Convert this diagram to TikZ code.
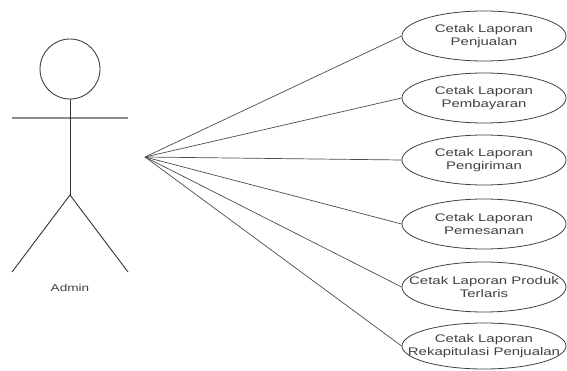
\documentclass[tikz,border=0pt]{standalone}
\usepackage{fontspec}
\setmainfont{Liberation Sans}[FakeStretch=1.36]
\usetikzlibrary{shapes.geometric}
\begin{document}
\begin{tikzpicture}[x=1pt,y=-1pt,
  uc/.style={draw=black!75, line width=0.8pt, ellipse, minimum width=164pt, minimum height=50pt, inner sep=0pt},
  uctext/.style={align=center, font=\fontsize{11}{13.5}\selectfont, text=black!75, inner sep=0pt},
  lnk/.style={draw=black!70, line width=0.7pt},
  body/.style={draw=black!80, line width=0.9pt}]
\useasboundingbox (0,0) rectangle (567,371);
% actor
\node[draw=black!75, line width=0.9pt, circle, minimum size=60pt, inner sep=0pt] (head) at (70,69) {};
\coordinate (hip) at (70,195);
\coordinate (armL) at (12,118);
\coordinate (armR) at (128,118);
\coordinate (legL) at (12,272);
\coordinate (legR) at (128,272);
\draw[draw=black!45, line width=1.2pt] (armL) -- (armR);
\draw[body] (head.south) -- (hip);
\draw[body] (legL) -- (hip) -- (legR);
\node[font=\fontsize{10}{12}\selectfont, text=black!75] (admin) at (70,288) {Admin};
\coordinate (f) at (145,157);
% use cases
\node[uc, label={[uctext]center:Cetak Laporan\\Penjualan}] (u1) at (484,36) {};
\node[uc, label={[uctext]center:Cetak Laporan\\Pembayaran}] (u2) at (484,98) {};
\node[uc, label={[uctext]center:Cetak Laporan\\Pengiriman}] (u3) at (484,160) {};
\node[uc, label={[uctext]center:Cetak Laporan\\Pemesanan}] (u4) at (484,224) {};
\node[uc, label={[uctext]center:Cetak Laporan Produk\\Terlaris}] (u5) at (484,287) {};
\node[uc, minimum height=46pt, label={[uctext]center:Cetak Laporan\\Rekapitulasi Penjualan}] (u6) at (484,346) {};
\foreach \u in {u1,u2,u3,u4,u5,u6} \draw[lnk] (f) -- (\u.west);
\end{tikzpicture}
\end{document}
